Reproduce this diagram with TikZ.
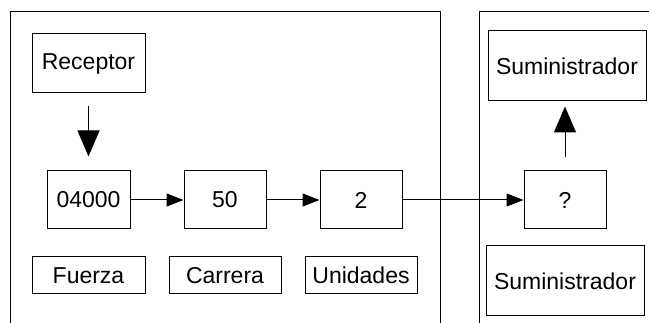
\documentclass[tikz,border=0pt]{standalone}
\usepackage{fontspec}
\setmainfont{Liberation Sans}
\usetikzlibrary{arrows.meta}

\begin{document}
\begin{tikzpicture}[x=1pt, y=-1pt,
    box/.style={draw, line width=1pt, inner sep=0pt, font=\fontsize{23}{26}\selectfont},
    small/.style={-{Triangle[length=17pt, width=13pt]}, line width=1pt},
    big/.style={-{Triangle[length=26pt, width=22pt]}, line width=1pt}]
        \useasboundingbox (0,0) rectangle (649,323);
        % panels
        \draw[line width=1pt] (10,323) |- (440,12) -- (440,323);
        \draw[line width=1pt] (479,323) |- (649,12);
        % left panel
        \node[box, minimum width=113pt, minimum height=59pt] (receptor) at (88.5,63.5) {Receptor};
        \node[box, minimum width=83pt, minimum height=58pt] (fuerzaval) at (88.5,200) {04000};
        \node[box, minimum width=82pt, minimum height=58pt] (carreraval) at (225,200) {50};
        \node[box, minimum width=82pt, minimum height=58pt] (unidadesval) at (361,200) {2};
        \node[box, minimum width=113pt, minimum height=37pt] (fuerza) at (88.5,275.5) {Fuerza};
        \node[box, minimum width=112pt, minimum height=37pt] (carrera) at (225,275.5) {Carrera};
        \node[box, minimum width=112pt, minimum height=37pt] (unidades) at (361,275.5) {Unidades};
        % right panel
        \node[box, minimum width=82pt, minimum height=58pt] (pregunta) at (565,200) {?};
        \node[box, minimum width=158pt, minimum height=70pt] (sumarriba) at (567,66) {Suministrador};
        \node[box, minimum width=158pt, minimum height=70pt] (sumabajo) at (565,281) {Suministrador};
        % connectors
        \draw[big, shorten <=13pt, shorten >=14pt] (receptor) -- (fuerzaval);
        \draw[small] (fuerzaval) -- (carreraval);
        \draw[small] (carreraval) -- (unidadesval);
        \draw[small] (unidadesval) -- (pregunta);
        \draw[big, shorten <=13pt, shorten >=5pt] (pregunta.north) -- (pregunta.north |- sumarriba.south);
      \end{tikzpicture}
\end{document}
